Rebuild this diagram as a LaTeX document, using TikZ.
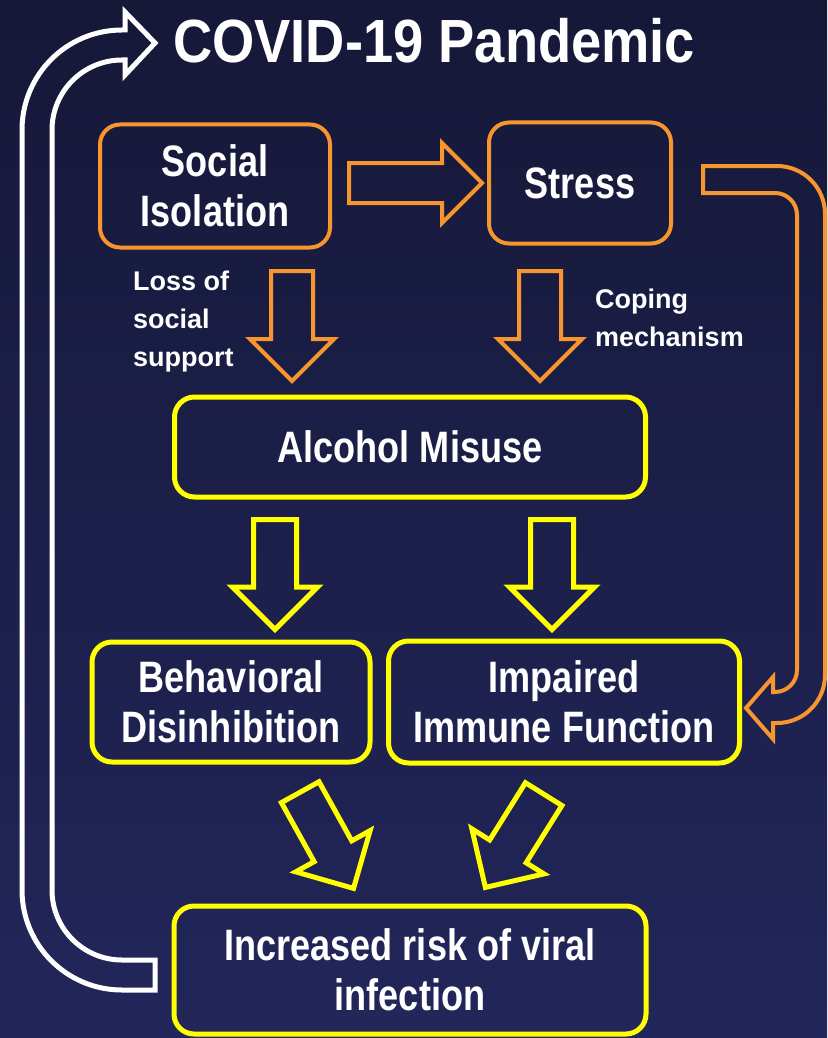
\documentclass[tikz,border=0pt]{standalone}
\usepackage{fontspec}
\setmainfont{Liberation Sans}[FakeStretch=0.82]
\newfontfamily\titlefont{Liberation Sans}[FakeStretch=0.89]
\newfontfamily\notefont{Liberation Sans}
\usetikzlibrary{shapes.arrows}

\definecolor{bgtop}{HTML}{161838}
\definecolor{bgbottom}{HTML}{22265A}
\definecolor{boxorange}{HTML}{F7962F}
\definecolor{boxyellow}{HTML}{FFFF00}

\tikzset{
  box/.style={draw, rounded corners=20pt, align=center, text=white,
    font=\fontsize{44}{50}\selectfont\bfseries, inner sep=0pt},
  orangebox/.style={box, draw=boxorange, line width=4pt},
  yellowbox/.style={box, draw=boxyellow, line width=5pt},
  blockarrow/.style={single arrow, draw, line width=4pt, inner sep=0pt,
    inner ysep=19pt, single arrow head extend=21pt, anchor=tail,
    minimum height=110pt},
  note/.style={text=white, align=left, inner sep=0pt,
    font=\notefont\fontsize{27}{38}\selectfont\bfseries}
}

\begin{document}
\begin{tikzpicture}[x=1pt, y=-1pt]
  % background
  \shade[top color=bgtop, bottom color=bgbottom] (0,0) rectangle (827,1038);
  \useasboundingbox (0,0) rectangle (827,1038);

  % title
  \node[text=white, anchor=west, inner sep=0pt,
    font=\titlefont\fontsize{61}{70}\selectfont\bfseries] (title) at (173,41) {COVID-19 Pandemic};

  % boxes
  \node[orangebox, minimum width=230pt, minimum height=123pt] (social) at (215,186) {Social\\Isolation};
  \node[orangebox, minimum width=182pt, minimum height=121pt] (stress) at (580,183) {Stress};
  \node[yellowbox, minimum width=471pt, minimum height=100pt] (alcohol) at (410,447) {Alcohol Misuse};
  \node[yellowbox, minimum width=278pt, minimum height=120pt] (behav) at (231,702) {Behavioral\\Disinhibition};
  \node[yellowbox, minimum width=351pt, minimum height=122pt] (immune) at (564,702) {Impaired\\Immune Function};
  \node[yellowbox, minimum width=472pt, minimum height=128pt] (risk) at (410,970) {Increased risk of viral\\infection};

  % side notes
  \node[note, anchor=west] (loss) at (133,322) {Loss of\\social\\support};
  \node[note, anchor=west] (coping) at (595,318) {Coping\\mechanism};

  % block arrows
  \node[blockarrow, draw=boxorange, minimum height=133pt, inner ysep=18pt, single arrow head extend=20pt] (a1) at (347,183) {};
  \node[blockarrow, draw=boxorange, rotate=-90] (a2) at (292,269) {};
  \node[blockarrow, draw=boxorange, rotate=-90] (a3) at (540,269) {};
  \node[blockarrow, draw=boxyellow, line width=5pt, rotate=-90] (a4) at (275,517) {};
  \node[blockarrow, draw=boxyellow, line width=5pt, rotate=-90] (a5) at (552,517) {};
  \node[blockarrow, draw=boxyellow, line width=5pt, rotate=-61] (a6) at (299,790) {};
  \node[blockarrow, draw=boxyellow, line width=5pt, rotate=-122] (a7) at (545,792) {};

  % stress feeds the immune system
  \draw[boxorange, line width=4pt, line join=miter]
    (703,166) -- (777,166) arc[start angle=90, end angle=0, radius=48pt]
    -- (825,675) arc[start angle=0, end angle=-90, radius=48pt]
    -- (773,723) -- (773,739) -- (746,708) -- (773,677) -- (773,692) -- (775,692)
    arc[start angle=-90, end angle=0, radius=22pt]
    -- (797,215) arc[start angle=0, end angle=90, radius=22pt]
    -- (703,193) -- cycle;

  % feedback loop back to the pandemic
  \draw[white, line width=5pt, line join=miter]
    (155,960) -- (122,960) arc[start angle=270, end angle=180, radius=70pt]
    -- (52,130) arc[start angle=180, end angle=90, radius=70pt]
    -- (125,60) -- (125,75) -- (155,43) -- (125,12) -- (125,30) -- (122,30)
    arc[start angle=90, end angle=180, radius=100pt]
    -- (22,890) arc[start angle=180, end angle=270, radius=100pt]
    -- (155,990) -- cycle;
\end{tikzpicture}
\end{document}
